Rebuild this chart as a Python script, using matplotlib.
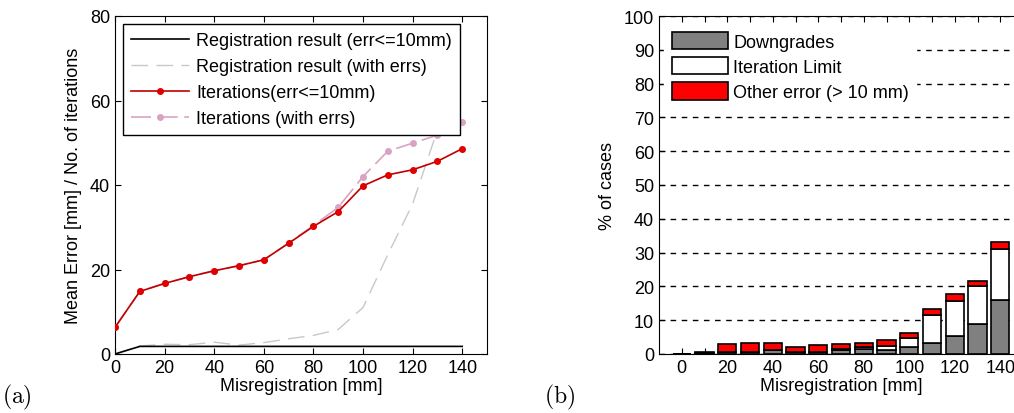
import numpy as np
import matplotlib.pyplot as plt

plt.rcParams["font.family"] = ["Liberation Sans", "DejaVu Sans"]
plt.rcParams["mathtext.fontset"] = "cm"

# (a) mean error / iterations vs misregistration
misreg = [0, 10, 20, 30, 40, 50, 60, 70, 80, 90, 100, 110, 120, 130, 140]
reg_ok = [0, 1.8, 1.8, 1.8, 1.8, 1.8, 1.8, 1.8, 1.8, 1.8, 1.8, 1.8, 1.8, 1.8, 1.8]
reg_all = [0, 1.9, 2.3, 2.2, 2.8, 2.1, 2.7, 3.6, 4.4, 5.8, 11.0, 23.5, 35.5, 53.0, 55.5]
iter_ok = [6.3, 14.8, 16.7, 18.3, 19.7, 20.9, 22.3, 26.2, 30.2, 33.7, 39.8, 42.4, 43.6, 45.6, 48.6]
iter_all = [6.3, 14.8, 16.7, 18.3, 19.7, 20.9, 22.3, 26.3, 30.4, 34.7, 42.0, 48.0, 49.9, 51.8, 54.8]

# (b) stacked failure percentages
bar_x = [0, 10, 20, 30, 40, 50, 60, 70, 80, 90, 100, 110, 120, 130, 140]
downgrades = [0, 0.3, 0.5, 0.6, 1.2, 0.5, 0.5, 1.2, 1.5, 1.2, 2.0, 3.3, 5.4, 8.8, 16.1]
iter_limit = [0, 0, 0, 0, 0, 0, 0, 0.4, 0.5, 1.3, 2.7, 8.3, 10.2, 11.3, 15.1]
other_err = [0, 0.3, 2.5, 2.7, 2.1, 1.6, 2.1, 1.3, 1.4, 1.6, 1.4, 1.8, 2.2, 1.5, 2.0]

fig = plt.figure(figsize=(10.14, 4.14), dpi=100)
fs = 13

# ---- left panel
ax = fig.add_axes([115 / 1014, 59 / 414, 372 / 1014, 338 / 414])
ax.plot(misreg, reg_ok, color="black", lw=1.2, label="Registration result (err<=10mm)", zorder=4)
ax.plot(misreg, reg_all, color="#c8c8c8", lw=1.0, dashes=(12, 6),
        label="Registration result (with errs)", zorder=2)
ax.plot(misreg, iter_ok, color="#c00000", lw=1.2, marker="o", ms=4,
        mfc="#e00000", mec="#e00000", label="Iterations(err<=10mm)", zorder=5)
ax.plot(misreg, iter_all, color="#d9a3c3", lw=1.2, dashes=(12, 4), marker="o", ms=4,
        mfc="#d9a3c3", mec="#d9a3c3", label="Iterations (with errs)", zorder=3)
ax.set_xlim(0, 150)
ax.set_ylim(0, 80)
ax.set_xticks(np.arange(0, 141, 20))
ax.set_yticks(np.arange(0, 81, 20))
ax.tick_params(direction="in", top=True, right=True, labelsize=fs, length=4)
ax.set_xlabel("Misregistration [mm]", fontsize=fs, labelpad=1)
ax.set_ylabel("Mean Error [mm] / No. of iterations", fontsize=fs, labelpad=6)
leg = ax.legend(loc="upper left", fontsize=fs, frameon=True, fancybox=False,
                handlelength=3.2, labelspacing=0.5, borderpad=0.45, handletextpad=0.4,
                bbox_to_anchor=(0.022, 0.976), borderaxespad=0)
leg.get_frame().set_edgecolor("black")
leg.get_frame().set_linewidth(1.0)
leg.get_frame().set_alpha(1)
leg.set_zorder(10)

# ---- right panel
bx = fig.add_axes([659 / 1014, 59 / 414, 364 / 1014, 338 / 414])
bot2 = np.array(downgrades) + np.array(iter_limit)
bx.bar(bar_x, downgrades, width=8, color="#808080", edgecolor="black", lw=1.2,
       label="Downgrades", zorder=3)
bx.bar(bar_x, iter_limit, width=8, bottom=downgrades, color="white", edgecolor="black",
       lw=1.2, label="Iteration Limit", zorder=3)
bx.bar(bar_x, other_err, width=8, bottom=bot2, color="#ff0000", edgecolor="black",
       lw=1.2, label="Other error (> 10 mm)", zorder=3)
bx.set_xlim(-10, 150)
bx.set_ylim(0, 100)
bx.set_xticks(np.arange(0, 141, 10))
bx.set_xticklabels([str(v) if v % 20 == 0 else "" for v in range(0, 141, 10)])
bx.set_yticks(np.arange(0, 101, 10))
bx.tick_params(direction="in", top=True, right=True, labelsize=fs, length=4)
bx.yaxis.grid(True, linestyle=(0, (4, 4)), color="black", lw=1.0)
bx.set_axisbelow(True)
bx.set_xlabel("Misregistration [mm]", fontsize=fs, labelpad=1)
bx.set_ylabel("% of cases", fontsize=fs, labelpad=6)
leg2 = bx.legend(loc="upper left", fontsize=fs, frameon=True, fancybox=False,
                 handlelength=3.1, handleheight=1.1, labelspacing=0.35,
                 handletextpad=0.3, borderpad=0.4, bbox_to_anchor=(0.0, 0.99),
                 borderaxespad=0.3)
leg2.get_frame().set_edgecolor("white")
leg2.get_frame().set_alpha(1)

fig.text(2 / 1014, 11 / 414, r"$\mathrm{(a)}$", fontsize=17, ha="left", va="baseline")
fig.text(544 / 1014, 11 / 414, r"$\mathrm{(b)}$", fontsize=17, ha="left", va="baseline")

fig.savefig("out.png", dpi=100)
